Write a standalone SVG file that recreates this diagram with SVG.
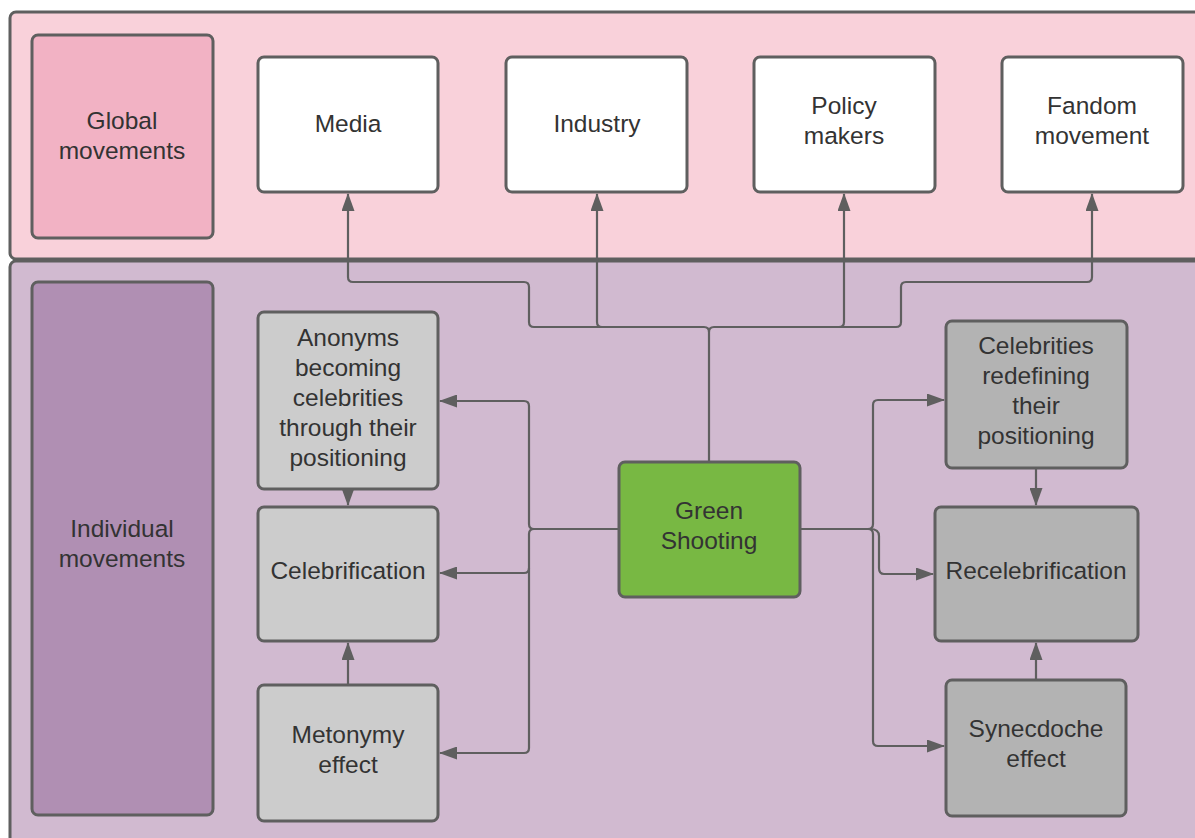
<svg xmlns="http://www.w3.org/2000/svg" width="1195" height="838" viewBox="0 0 1195 838">
<style>
.n{stroke:#5f5f5f;stroke-width:3}
.t{font-family:"Liberation Sans",Arial,sans-serif;font-size:24.5px;fill:#333;text-anchor:middle}
.c{fill:none;stroke:#5f5f5f;stroke-width:2.2;stroke-linejoin:round}
</style>
<defs>
<marker id="a" viewBox="0 0 18 13" refX="17" refY="6.5" markerWidth="18" markerHeight="13" markerUnits="userSpaceOnUse" orient="auto">
<path d="M0,0 L18,6.5 L0,13 Z" fill="#5f5f5f"/>
</marker>
</defs>
<rect width="1195" height="838" fill="#ffffff"/>
<g id="global-band"><rect class="n" x="10" y="12" width="1200" height="247" rx="6" fill="#f9d1da"/></g>
<g id="individual-band"><rect class="n" x="10" y="261" width="1200" height="600" rx="6" fill="#d1bad0"/></g>
<g id="global-movements"><rect class="n" x="32" y="35" width="181" height="203" rx="6" fill="#f2b2c4"/><text class="t" x="122" y="129">Global</text><text class="t" x="122" y="159">movements</text></g>
<g id="media"><rect class="n" x="258" y="57" width="180" height="135" rx="6" fill="#ffffff"/><text class="t" x="348" y="132">Media</text></g>
<g id="industry"><rect class="n" x="506" y="57" width="181" height="135" rx="6" fill="#ffffff"/><text class="t" x="597" y="132">Industry</text></g>
<g id="policy-makers"><rect class="n" x="754" y="57" width="181" height="135" rx="6" fill="#ffffff"/><text class="t" x="844" y="114">Policy</text><text class="t" x="844" y="144">makers</text></g>
<g id="fandom-movement"><rect class="n" x="1002" y="57" width="181" height="135" rx="6" fill="#ffffff"/><text class="t" x="1092" y="114">Fandom</text><text class="t" x="1092" y="144">movement</text></g>
<g id="individual-movements"><rect class="n" x="32" y="282" width="181" height="533" rx="6" fill="#b08fb3"/><text class="t" x="122" y="537">Individual</text><text class="t" x="122" y="567">movements</text></g>
<g id="anonyms"><rect class="n" x="258" y="312" width="180" height="177" rx="6" fill="#cccccc"/><text class="t" x="348" y="346">Anonyms</text><text class="t" x="348" y="376">becoming</text><text class="t" x="348" y="406">celebrities</text><text class="t" x="348" y="436">through their</text><text class="t" x="348" y="466">positioning</text></g>
<g id="celebrification"><rect class="n" x="258" y="507" width="180" height="134" rx="6" fill="#cccccc"/><text class="t" x="348" y="579">Celebrification</text></g>
<g id="metonymy"><rect class="n" x="258" y="685" width="180" height="136" rx="6" fill="#cccccc"/><text class="t" x="348" y="743">Metonymy</text><text class="t" x="348" y="773">effect</text></g>
<g id="green-shooting"><rect class="n" x="619" y="462" width="181" height="135" rx="6" fill="#78b843"/><text class="t" x="709" y="519">Green</text><text class="t" x="709" y="549">Shooting</text></g>
<g id="celebrities-redefining"><rect class="n" x="946" y="321" width="181" height="147" rx="6" fill="#b3b3b3"/><text class="t" x="1036" y="354">Celebrities</text><text class="t" x="1036" y="384">redefining</text><text class="t" x="1036" y="414">their</text><text class="t" x="1036" y="444">positioning</text></g>
<g id="recelebrification"><rect class="n" x="935" y="507" width="203" height="134" rx="6" fill="#b3b3b3"/><text class="t" x="1036" y="579">Recelebrification</text></g>
<g id="synecdoche"><rect class="n" x="946" y="680" width="180" height="136" rx="6" fill="#b3b3b3"/><text class="t" x="1036" y="737">Synecdoche</text><text class="t" x="1036" y="767">effect</text></g>
<g id="connectors">
<path class="c" d="M709,462 V332 Q709,327 704,327 H534 Q529,327 529,322 V287 Q529,282 524,282 H353 Q348,282 348,277 V194" marker-end="url(#a)"/>
<path class="c" d="M709,332 Q709,327 714,327 H839 Q844,327 844,322 V194" marker-end="url(#a)"/>
<path class="c" d="M704,327 H602 Q597,327 597,322 V194" marker-end="url(#a)"/>
<path class="c" d="M839,327 H896 Q901,327 901,322 V287 Q901,282 906,282 H1087 Q1092,282 1092,277 V194" marker-end="url(#a)"/>
<path class="c" d="M619,529 H534 Q529,529 529,524 V406 Q529,401 524,401 H440" marker-end="url(#a)"/>
<path class="c" d="M534,529 Q529,529 529,534 V568 Q529,573 524,573 H440" marker-end="url(#a)"/>
<path class="c" d="M529,568 V748 Q529,753 524,753 H440" marker-end="url(#a)"/>
<path class="c" d="M800,529 H868 Q873,529 873,524 V405 Q873,400 878,400 H944" marker-end="url(#a)"/>
<path class="c" d="M868,529 Q873,529 873,534 V741 Q873,746 878,746 H944" marker-end="url(#a)"/>
<path class="c" d="M870,529 Q879,529 879,536 V568 Q879,574 884,574 H933" marker-end="url(#a)"/>
<path class="c" d="M348,489 V505" marker-end="url(#a)"/>
<path class="c" d="M348,685 V643" marker-end="url(#a)"/>
<path class="c" d="M1036,468 V505" marker-end="url(#a)"/>
<path class="c" d="M1036,680 V643" marker-end="url(#a)"/>
</g>
</svg>
